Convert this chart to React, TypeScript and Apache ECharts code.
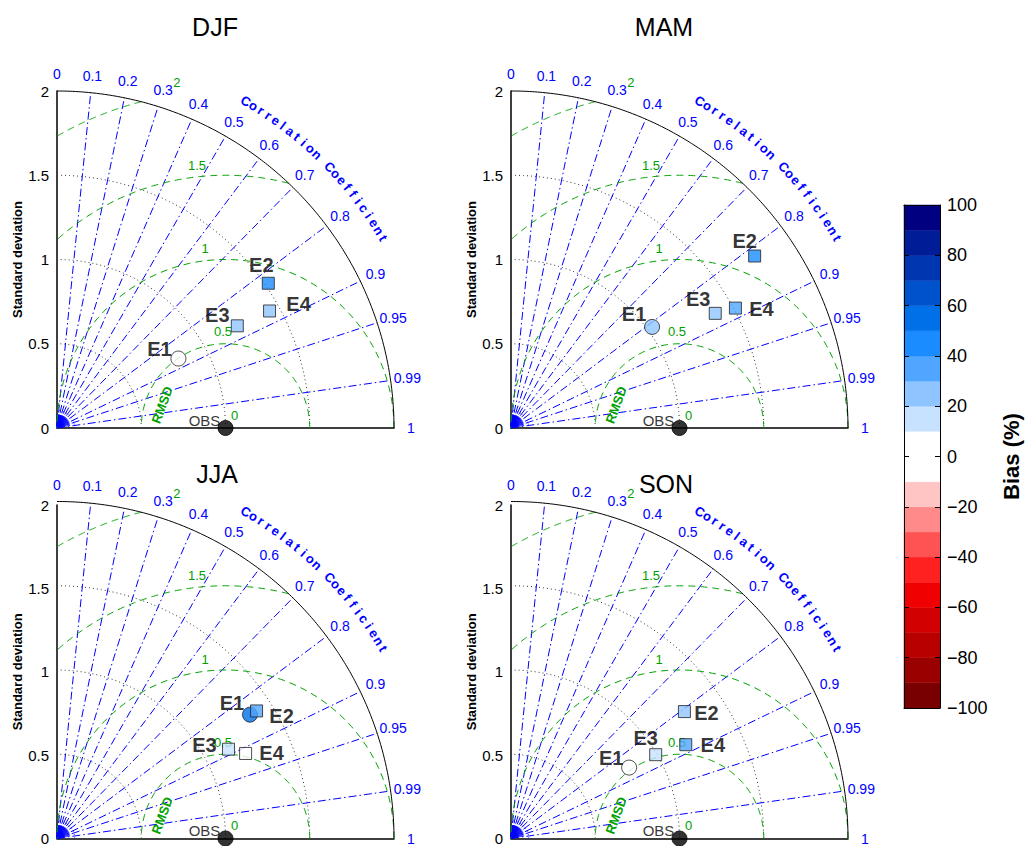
import React, { useEffect, useRef } from "react";
import * as echarts from "echarts";

// ---------------- data ----------------
const SEASONS = ["DJF", "MAM", "JJA", "SON"];
const EXPERIMENTS = ["E1", "E2", "E3", "E4"];
const OBS_STD = 1;

// normalized standard deviation, correlation, bias (%)
const STD_DJF = [0.83, 1.52, 1.23, 1.44];
const CORR_DJF = [0.868, 0.825, 0.87, 0.876];
const BIAS_DJF = [0, 45, 25, 25];

const STD_MAM = [1.03, 1.77, 1.39, 1.51];
const CORR_MAM = [0.813, 0.817, 0.872, 0.882];
const BIAS_MAM = [25, 45, 25, 35];

const STD_JJA = [1.365, 1.41, 1.15, 1.23];
const CORR_JJA = [0.839, 0.84, 0.885, 0.91];
const BIAS_JJA = [55, 35, 15, 0];

const STD_SON = [0.82, 1.28, 0.995, 1.18];
const CORR_SON = [0.855, 0.804, 0.863, 0.879];
const BIAS_SON = [0, 25, 15, 35];

const STD_TICKS = [0, 0.5, 1, 1.5, 2];
const CORR_TICKS = [0.1, 0.2, 0.3, 0.4, 0.5, 0.6, 0.7, 0.8, 0.9, 0.95, 0.99];
const CORR_LABELS = [0, 0.1, 0.2, 0.3, 0.4, 0.5, 0.6, 0.7, 0.8, 0.9, 0.95, 0.99, 1];
const RMSD_LEVELS = [0.5, 1, 1.5, 2];

const BIAS_BOUNDS = [-100, -90, -80, -70, -60, -50, -40, -30, -20, -10, 10, 20, 30, 40, 50, 60, 70, 80, 90, 100];
const BIAS_COLORS = [
  "#780000", "#990000", "#b80000", "#d20000", "#f00000", "#ff2020", "#ff5252", "#ff8a8a", "#ffc4c4",
  "#ffffff",
  "#c6e2ff", "#8ec4ff", "#50a6ff", "#1a8cff", "#0070e8", "#0052cc", "#0036b0", "#001c96", "#000080",
];
const BIAS_TICKS = [-100, -80, -60, -40, -20, 0, 20, 40, 60, 80, 100];

// ---------------- styling / layout ----------------
const FONT = "'Liberation Sans', Arial, Helvetica, sans-serif";
const BLUE = "#0000ff";
const GREEN = "#00a000";
const PANEL_SIZE = 337;
const PANEL_POS = [
  [57, 91],
  [511, 91],
  [57, 505],
  [511, 505],
];
const TITLE_POS = [
  [215, 27],
  [664, 27],
  [217, 474],
  [666, 484],
];
const LABEL_OFFSETS = [
  [[-19, -10], [-7, -18], [-20, -11], [29, -7]],
  [[-18, -13], [-10, -15], [-17, -14], [26, 1]],
  [[-18, -12], [25, 5], [-24, -4], [26, 0]],
  [[-18, -10], [22, 1], [-10, -17], [27, 0]],
];
const RMSD_LABEL_ANGLES = [91.5, 96.5, 96.2, 98];

const SEASON_STD = [STD_DJF, STD_MAM, STD_JJA, STD_SON];
const SEASON_CORR = [CORR_DJF, CORR_MAM, CORR_JJA, CORR_SON];
const SEASON_BIAS = [BIAS_DJF, BIAS_MAM, BIAS_JJA, BIAS_SON];

function biasColor(b: number) {
  for (let i = 0; i < BIAS_COLORS.length; i++) {
    if (b >= BIAS_BOUNDS[i] && b < BIAS_BOUNDS[i + 1]) return BIAS_COLORS[i];
  }
  return BIAS_COLORS[BIAS_COLORS.length - 1];
}

function txt(x: number, y: number, text: string, font: string, fill: string, rotation = 0, align = "center") {
  return {
    type: "text",
    x,
    y,
    rotation,
    style: {
      text,
      font,
      fill,
      align,
      textAlign: align,
      verticalAlign: "middle",
      textVerticalAlign: "middle",
    },
  };
}

function frameRender(params: any, api: any) {
  const o = api.coord([0, 0]);
  const u = api.size([1, 1])[0];
  const P = (x: number, y: number) => [o[0] + x * u, o[1] - y * u];
  const PP = (r: number, th: number) => P(r * Math.cos(th), r * Math.sin(th));
  const arcPts = (cx: number, cy: number, R: number, a0: number, a1: number, n = 160) => {
    const pts: number[][] = [];
    for (let i = 0; i <= n; i++) {
      const a = a0 + ((a1 - a0) * i) / n;
      pts.push(P(cx + R * Math.cos(a), cy + R * Math.sin(a)));
    }
    return pts;
  };
  const ch: any[] = [];

  // std dotted arcs
  STD_TICKS.filter((s) => s > 0 && s < 2).forEach((s) => {
    ch.push({
      type: "polyline",
      shape: { points: arcPts(0, 0, s, 0, Math.PI / 2) },
      style: { stroke: "#333", lineWidth: 1, lineDash: [1, 3], fill: "none" },
    });
  });

  // dense fan near origin
  for (let k = 1; k < 50; k++) {
    const th = Math.acos(k / 50);
    const e = PP(0.08, th);
    ch.push({
      type: "line",
      shape: { x1: o[0], y1: o[1], x2: e[0], y2: e[1] },
      style: { stroke: BLUE, lineWidth: 0.7 },
    });
  }
  ch.push({
    type: "polyline",
    shape: { points: arcPts(0, 0, 0.105, 0, Math.PI / 2, 40) },
    style: { stroke: BLUE, lineWidth: 1, lineDash: [1, 2.5], fill: "none" },
  });

  // correlation lines
  CORR_TICKS.forEach((c) => {
    const th = Math.acos(c);
    const e = PP(2, th);
    ch.push({
      type: "line",
      shape: { x1: o[0], y1: o[1], x2: e[0], y2: e[1] },
      style: { stroke: BLUE, lineWidth: 1, lineDash: [8, 3, 1.5, 3] },
    });
  });

  // RMSD arcs
  RMSD_LEVELS.forEach((R, idx) => {
    let a0 = 0;
    let a1 = Math.PI;
    if (R > 1) {
      const xi = (5 - R * R) / 2;
      a0 = Math.atan2(Math.sqrt(4 - xi * xi), xi - OBS_STD);
      a1 = Math.atan2(Math.sqrt(R * R - 1), -OBS_STD);
    }
    ch.push({
      type: "polyline",
      shape: { points: arcPts(OBS_STD, 0, R, a0, a1) },
      style: { stroke: GREEN, lineWidth: 1, lineDash: [7, 5], fill: "none" },
    });
    const phi = (RMSD_LABEL_ANGLES[idx] * Math.PI) / 180;
    const p = P(OBS_STD + (R + 0.07) * Math.cos(phi), (R + 0.07) * Math.sin(phi));
    ch.push(txt(p[0], p[1], String(R), `13px ${FONT}`, GREEN));
  });
  const obsP = P(OBS_STD, 0);
  ch.push(txt(obsP[0] + 9, obsP[1] - 13, "0", `13px ${FONT}`, GREEN));
  {
    const phi = (160 * Math.PI) / 180;
    const p = P(OBS_STD + 0.4 * Math.cos(phi), 0.4 * Math.sin(phi));
    ch.push(txt(p[0], p[1], "RMSD", `bold 13px ${FONT}`, GREEN, phi - Math.PI / 2));
  }

  // outer arc
  ch.push({
    type: "polyline",
    shape: { points: arcPts(0, 0, 2, 0, Math.PI / 2, 200) },
    style: { stroke: "#000", lineWidth: 1, fill: "none" },
  });

  // correlation labels
  CORR_LABELS.forEach((c) => {
    const p = PP(2.1, Math.acos(c));
    ch.push(txt(p[0], p[1], String(c), `14px ${FONT}`, BLUE));
  });

  // "Correlation Coefficient" along the arc
  const title = "Correlation Coefficient";
  const n = title.length;
  for (let i = 0; i < n; i++) {
    const th = ((60 - (29.8 * i) / (n - 1)) * Math.PI) / 180;
    const p = PP(2.24, th);
    ch.push(txt(p[0], p[1], title[i], `bold 13px ${FONT}`, BLUE, th - Math.PI / 2));
  }

  return { type: "group", children: ch };
}

function colorbarRender(params: any, api: any) {
  const i = params.dataIndex;
  const p0 = api.coord([0, BIAS_BOUNDS[i]]);
  const p1 = api.coord([1, BIAS_BOUNDS[i + 1]]);
  return {
    type: "rect",
    shape: { x: p0[0], y: p1[1], width: p1[0] - p0[0], height: p0[1] - p1[1] },
    style: { fill: BIAS_COLORS[i], stroke: BIAS_COLORS[i], lineWidth: 0.5 },
  };
}

function buildOption() {
  const grids: any[] = PANEL_POS.map(([l, t]) => ({ left: l, top: t, width: PANEL_SIZE, height: PANEL_SIZE }));
  grids.push({ left: 904, top: 205, width: 36, height: 503 });

  const xAxes: any[] = PANEL_POS.map((_, i) => ({
    type: "value",
    gridIndex: i,
    min: 0,
    max: 2,
    axisLine: { show: true, onZero: false, lineStyle: { color: "#000", width: 1.5 } },
    axisTick: { show: false },
    axisLabel: { show: false },
    splitLine: { show: false },
  }));
  ["bottom", "top"].forEach((pos) =>
    xAxes.push({
      type: "value",
      gridIndex: 4,
      position: pos,
      min: 0,
      max: 1,
      z: 10,
      axisLine: { show: true, onZero: false, lineStyle: { color: "#000", width: 1 } },
      axisTick: { show: false },
      axisLabel: { show: false },
      splitLine: { show: false },
    })
  );

  const yAxes: any[] = PANEL_POS.map((_, i) => ({
    type: "value",
    gridIndex: i,
    min: 0,
    max: 2,
    interval: 0.5,
    name: "Standard deviation",
    nameLocation: "middle",
    nameRotate: 90,
    nameGap: 33,
    nameTextStyle: { fontSize: 13, fontWeight: "bold", color: "#000", fontFamily: FONT },
    axisLine: { show: true, onZero: false, lineStyle: { color: "#000", width: 1.5 } },
    axisTick: { show: false },
    axisLabel: { fontSize: 15, color: "#000", margin: 8, fontFamily: FONT },
    splitLine: { show: false },
  }));
  yAxes.push({
    type: "value",
    gridIndex: 4,
    position: "right",
    min: -100,
    max: 100,
    interval: 20,
    z: 10,
    name: "Bias (%)",
    nameLocation: "middle",
    nameRotate: 90,
    nameGap: 60,
    nameTextStyle: { fontSize: 22, fontWeight: "bold", color: "#000", fontFamily: FONT },
    axisLine: { show: true, onZero: false, lineStyle: { color: "#000", width: 1 } },
    axisTick: { show: true, inside: true, length: 5, lineStyle: { color: "#000" } },
    axisLabel: {
      fontSize: 18,
      color: "#000",
      margin: 7,
      fontFamily: FONT,
      formatter: (v: number) => (v < 0 ? "\u2212" + Math.abs(v) : String(v)),
    },
    splitLine: { show: false },
  });
  yAxes.push({
    type: "value",
    gridIndex: 4,
    position: "left",
    min: -100,
    max: 100,
    interval: 20,
    z: 10,
    axisLine: { show: true, onZero: false, lineStyle: { color: "#000", width: 1 } },
    axisTick: { show: true, inside: true, length: 5, lineStyle: { color: "#000" } },
    axisLabel: { show: false },
    splitLine: { show: false },
  });

  const series: any[] = [];
  SEASONS.forEach((s, i) => {
    series.push({
      type: "custom",
      name: s + " frame",
      xAxisIndex: i,
      yAxisIndex: i,
      clip: false,
      silent: true,
      z: 1,
      data: [[0, 0]],
      renderItem: frameRender,
    });
    const std = SEASON_STD[i];
    const corr = SEASON_CORR[i];
    const bias = SEASON_BIAS[i];
    const data: any[] = [
      {
        name: "OBS",
        value: [OBS_STD, 0],
        symbol: "circle",
        symbolSize: 15,
        itemStyle: { color: "#000", borderColor: "#000", borderWidth: 1 },
        label: {
          show: true,
          formatter: "OBS",
          position: "inside",
          offset: [-21, -8],
          fontSize: 15,
          fontWeight: "normal",
          color: "#000",
          textBorderWidth: 0,
          fontFamily: FONT,
        },
      },
    ];
    EXPERIMENTS.forEach((e, k) => {
      const sd = std[k];
      const c = corr[k];
      data.push({
        name: e,
        value: [sd * c, sd * Math.sqrt(1 - c * c)],
        symbol: k === 0 ? "circle" : "rect",
        symbolSize: k === 0 ? 15 : 12,
        itemStyle: { color: biasColor(bias[k]), borderColor: "#222", borderWidth: 1 },
        label: {
          show: true,
          formatter: e,
          position: "inside",
          offset: LABEL_OFFSETS[i][k],
          fontSize: 20,
          fontWeight: "bold",
          color: "#000",
          textBorderWidth: 0,
          fontFamily: FONT,
        },
      });
    });
    series.push({
      type: "scatter",
      name: s,
      xAxisIndex: i,
      yAxisIndex: i,
      clip: false,
      silent: true,
      z: 5,
      data,
    });
  });
  series.push({
    type: "custom",
    name: "colorbar",
    xAxisIndex: 4,
    yAxisIndex: 4,
    clip: false,
    silent: true,
    z: 2,
    data: BIAS_COLORS.map((_, i) => [0.5, (BIAS_BOUNDS[i] + BIAS_BOUNDS[i + 1]) / 2]),
    renderItem: colorbarRender,
  });

  return {
    animation: false,
    backgroundColor: "#fff",
    textStyle: { fontFamily: FONT },
    grid: grids,
    xAxis: xAxes,
    yAxis: yAxes,
    series,
    graphic: SEASONS.map((s, i) => ({
      type: "text",
      x: TITLE_POS[i][0],
      y: TITLE_POS[i][1],
      style: {
        text: s,
        font: `25px ${FONT}`,
        fill: "#000",
        align: "center",
        textAlign: "center",
        verticalAlign: "middle",
        textVerticalAlign: "middle",
      },
    })),
  };
}

export default function App() {
  const ref = useRef<HTMLDivElement>(null);
  useEffect(() => {
    document.body.style.margin = "0";
    const chart = echarts.init(ref.current!, null, { renderer: "svg" });
    chart.setOption(buildOption() as any);
    return () => chart.dispose();
  }, []);
  return <div ref={ref} style={{ width: 1028, height: 846 }} />;
}
